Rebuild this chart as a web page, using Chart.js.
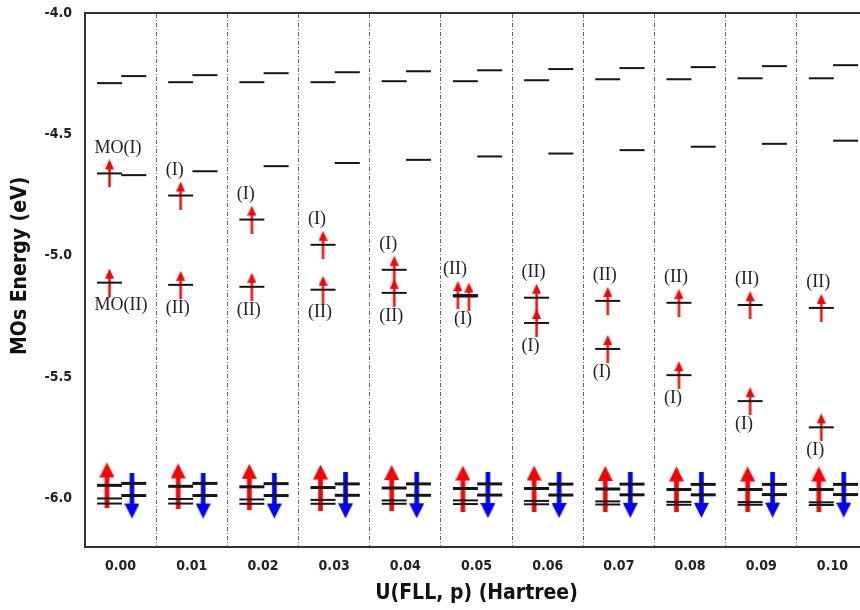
<!DOCTYPE html>
<html>
<head>
<meta charset="utf-8">
<script src="https://cdn.jsdelivr.net/npm/chart.js@4.4.1/dist/chart.umd.min.js"></script>
<style>
  html, body { margin: 0; padding: 0; background: #fff; overflow: hidden; }
  canvas { display: block; }
</style>
</head>
<body>
<canvas id="chart" width="870" height="610"></canvas>
<script>
const uValues = ["0.00", "0.01", "0.02", "0.03", "0.04", "0.05", "0.06", "0.07", "0.08", "0.09", "0.10"];
const yTicks = [-6.0, -5.5, -5.0, -4.5, -4.0];

// MO energies (eV), spin-up levels drawn left, spin-down right in each column
const upTop = [-4.289, -4.285, -4.285, -4.285, -4.281, -4.281, -4.277, -4.273, -4.273, -4.269, -4.269];
const dnTop = [-4.260, -4.256, -4.248, -4.244, -4.240, -4.236, -4.231, -4.227, -4.223, -4.219, -4.215];
const dnMid = [-4.668, -4.652, -4.631, -4.618, -4.605, -4.591, -4.579, -4.565, -4.551, -4.539, -4.526];
const occI  = [-4.661, -4.752, -4.851, -4.955, -5.058, -5.168, -5.277, -5.384, -5.492, -5.599, -5.707];
const occII = [-5.111, -5.120, -5.128, -5.140, -5.153, -5.162, -5.173, -5.186, -5.194, -5.203, -5.215];
const upLow1 = [-5.946, -5.950, -5.952, -5.955, -5.957, -5.959, -5.959, -5.961, -5.963, -5.963, -5.963];
const upLow2 = [-6.000, -6.002, -6.004, -6.006, -6.008, -6.008, -6.010, -6.012, -6.014, -6.015, -6.016];
const upLow3 = [-6.021, -6.021, -6.022, -6.022, -6.022, -6.023, -6.024, -6.025, -6.026, -6.026, -6.027];
const dnLow1 = [-5.938, -5.938, -5.939, -5.940, -5.940, -5.940, -5.941, -5.941, -5.942, -5.942, -5.942];
const dnLow2 = [-5.988, -5.988, -5.988, -5.987, -5.987, -5.986, -5.986, -5.985, -5.985, -5.984, -5.984];
const labelsI  = ["MO(I)", "(I)", "(I)", "(I)", "(I)", "(I)", "(I)", "(I)", "(I)", "(I)", "(I)"];
const labelsII = ["MO(II)", "(II)", "(II)", "(II)", "(II)", "(II)", "(II)", "(II)", "(II)", "(II)", "(II)"];

const sansBold = { family: '"DejaVu Sans Condensed", "DejaVu Sans", sans-serif', weight: 'bold' };

// column-relative x positions (one column per unit)
const leftX = i => i - 0.156;
const rightX = i => i + 0.185;
const pts = (vals, xf) => vals.map((y, i) => ({ x: xf(i), y }));

// two near-degenerate levels get their arrows side by side
const arrowXI = occI.map((e, i) => Math.abs(e - occII[i]) < 0.02 ? leftX(i) + 0.05 : leftX(i));
const arrowXII = occII.map((e, i) => Math.abs(e - occI[i]) < 0.02 ? leftX(i) - 0.105 : leftX(i));

function arrowImage(w, h, head, shaft, color, down) {
  const c = document.createElement('canvas');
  c.width = w; c.height = h;
  const g = c.getContext('2d');
  if (down) { g.translate(0, h); g.scale(1, -1); }
  g.fillStyle = color;
  g.beginPath();
  g.moveTo(w / 2, 0);
  g.lineTo(w, head);
  g.lineTo(w / 2 + shaft / 2, head);
  g.lineTo(w / 2 + shaft / 2, h);
  g.lineTo(w / 2 - shaft / 2, h);
  g.lineTo(w / 2 - shaft / 2, head);
  g.lineTo(0, head);
  g.closePath();
  g.fill();
  return c;
}
const smallUp = arrowImage(9, 28, 10, 2.4, '#ff0000', false);
const bigUp = arrowImage(15, 46, 15, 4.6, '#ff0000', false);
const bigDown = arrowImage(15, 46, 15, 4.6, '#0000ff', true);

function levels(data, width) {
  return {
    data, showLine: false, pointStyle: 'line', pointRadius: 12.5, pointHoverRadius: 12.5,
    pointBorderWidth: width, pointHoverBorderWidth: width,
    pointBorderColor: '#151515', pointBackgroundColor: '#151515'
  };
}
function arrows(data, img) {
  return { data, showLine: false, pointStyle: img, pointRadius: 10, pointHoverRadius: 10 };
}

const moLabels = {
  id: 'moLabels',
  afterDatasetsDraw(chart) {
    const { ctx, scales: { x, y } } = chart;
    ctx.save();
    ctx.font = '18px "Liberation Serif", serif';
    ctx.fillStyle = '#222';
    ctx.textAlign = 'left';
    ctx.textBaseline = 'middle';
    const put = (text, ax, e, above) => {
      ctx.fillText(text, x.getPixelForValue(ax) - 15, y.getPixelForValue(e) + (above ? -25.5 : 23));
    };
    uValues.forEach((u, i) => {
      const iHigher = occI[i] > occII[i];
      put(labelsI[i], arrowXI[i], occI[i], iHigher);
      put(labelsII[i], arrowXII[i], occII[i], !iHigher);
    });
    ctx.restore();
  }
};

// invisible tick marks give the label gap without the scale's label padding
const hiddenTicks = len => ({ display: true, drawOnChartArea: false, drawTicks: true, tickLength: len, tickColor: 'rgba(0,0,0,0)' });

new Chart(document.getElementById('chart'), {
  type: 'scatter',
  data: {
    datasets: [
      levels(pts(upTop, leftX).concat(pts(dnTop, rightX), pts(dnMid, rightX),
        pts(occI, leftX), pts(occII, leftX), pts(upLow2, leftX), pts(upLow3, leftX)), 2),
      levels(pts(upLow1, leftX).concat(pts(dnLow1, rightX), pts(dnLow2, rightX)), 3),
      arrows(occI.map((e, i) => ({ x: arrowXI[i], y: e })).concat(occII.map((e, i) => ({ x: arrowXII[i], y: e }))), smallUp),
      arrows(pts(upLow1, i => i - 0.191), bigUp),
      arrows(pts(dnLow2, i => i + 0.16), bigDown)
    ]
  },
  options: {
    responsive: false,
    animation: false,
    events: [],
    layout: { autoPadding: false, padding: { right: 2 } },
    plugins: { legend: { display: false }, tooltip: { enabled: false } },
    scales: {
      x: {
        type: 'linear', position: 'bottom', min: -0.5, max: 10.5,
        afterBuildTicks: s => { s.ticks = uValues.map((u, i) => ({ value: i })); },
        afterFit: s => { s.height = 63; },
        grid: hiddenTicks(11),
        border: { display: true, color: '#333', width: 2 },
        ticks: {
          autoSkip: false, maxRotation: 0, padding: 0, color: '#222',
          font: { ...sansBold, size: 14 },
          callback: v => uValues[Math.round(v)]
        },
        title: {
          display: true, text: 'U(FLL, p) (Hartree)', color: '#111',
          font: { ...sansBold, size: 21 }, padding: { top: 0, bottom: 4 }
        }
      },
      x2: {
        type: 'linear', position: 'top', min: -0.5, max: 10.5,
        afterBuildTicks: s => { s.ticks = uValues.slice(1).map((u, i) => ({ value: i + 0.5 })); },
        afterFit: s => { s.height = 13; },
        grid: { display: true, drawTicks: false, color: '#666', lineWidth: 1 },
        border: { display: true, color: '#333', width: 2, dash: [4, 2, 1, 2] },
        ticks: { display: false, padding: 0 }
      },
      y: {
        min: -6.2, max: -4.0,
        afterBuildTicks: s => { s.ticks = yTicks.map(v => ({ value: v })); },
        afterFit: s => { s.width = 85; },
        grid: hiddenTicks(13),
        border: { display: true, color: '#333', width: 2 },
        ticks: {
          padding: 0, color: '#222',
          font: { ...sansBold, size: 14 },
          callback: v => v.toFixed(1)
        },
        title: {
          display: true, text: '\u2002\u2002\u2002MOs Energy (eV)', color: '#111',
          font: { ...sansBold, size: 21 }, padding: { top: 8, bottom: 0 }
        }
      }
    }
  },
  plugins: [moLabels]
});
</script>
</body>
</html>
